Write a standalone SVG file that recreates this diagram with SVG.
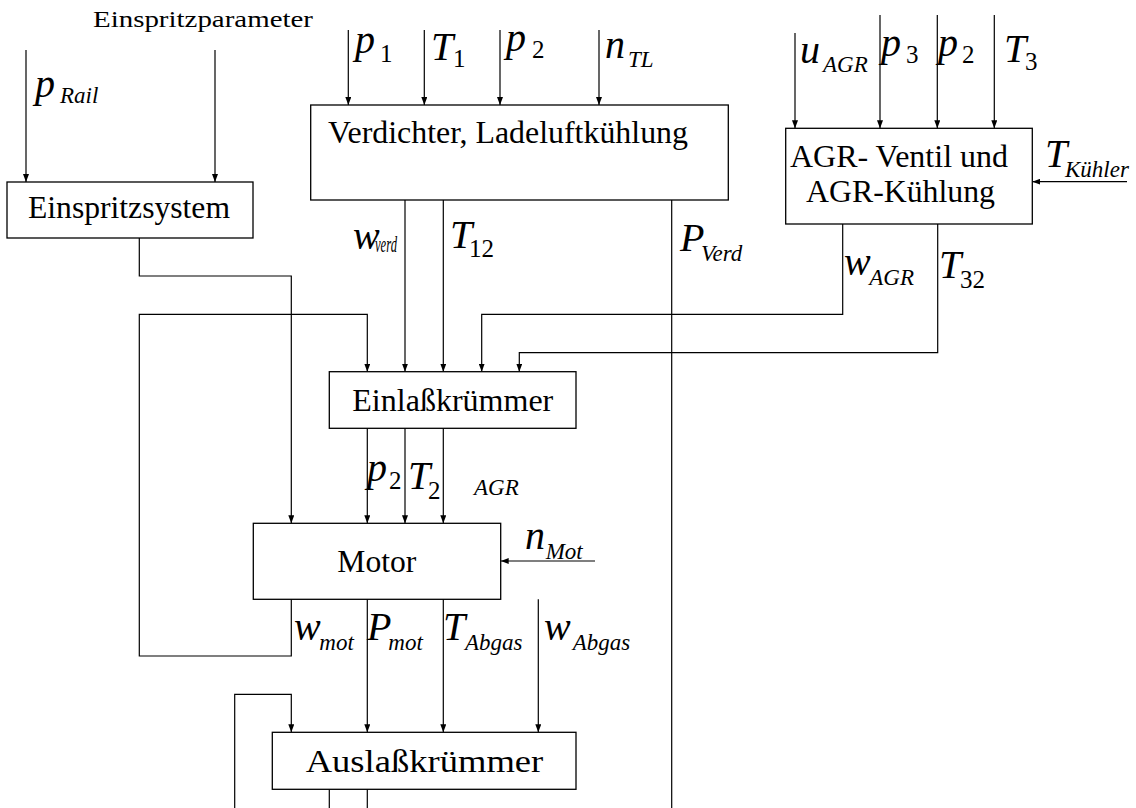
<svg xmlns="http://www.w3.org/2000/svg" width="1136" height="808" viewBox="0 0 1136 808" font-family="'Liberation Serif', 'Times New Roman', 'DejaVu Serif', serif">
<style>
.box{fill:#fff;stroke:#000;stroke-width:1.3}
.ln{fill:none;stroke:#000;stroke-width:1.2}
.ar{marker-end:url(#a)}
text{font-family:'Liberation Serif','Times New Roman','DejaVu Serif',serif;fill:#000}
.lbl{font-size:31.5px}
.m{font-style:italic;font-size:40px}
.s{font-size:23px}
.d{font-style:normal;font-size:25px}
</style>
<defs>
<marker id="a" viewBox="0 0 8 6" refX="8" refY="3" markerWidth="8" markerHeight="6" markerUnits="userSpaceOnUse" orient="auto">
<path d="M0,0 L8,3 L0,6 z" fill="#000"/>
</marker>
</defs>
<rect width="1136" height="808" fill="#fff"/>
<g id="connectors">
<path class="ln ar" d="M26,50 V182"/>
<path class="ln ar" d="M215,50 V182"/>
<path class="ln ar" d="M348.3,30 V105"/>
<path class="ln ar" d="M424.3,30 V105"/>
<path class="ln ar" d="M500,30 V105"/>
<path class="ln ar" d="M599,30 V105"/>
<path class="ln ar" d="M795,33 V128.3"/>
<path class="ln ar" d="M880,15 V128.3"/>
<path class="ln ar" d="M937.3,15 V128.3"/>
<path class="ln ar" d="M994.3,15 V128.3"/>
<path class="ln ar" d="M1127,181.7 H1032.3"/>
<path class="ln ar" d="M139.3,238 V276 H291.3 V523.3"/>
<path class="ln ar" d="M405,200 V371.7"/>
<path class="ln ar" d="M443.3,200 V371.7"/>
<path class="ln" d="M671.7,200 V808"/>
<path class="ln ar" d="M842.7,224 V314.3 H481.7 V371.7"/>
<path class="ln ar" d="M937.7,224 V352.7 H519.3 V371.7"/>
<path class="ln ar" d="M291.3,599.3 V656 H139.3 V314.3 H367.3 V371.7"/>
<path class="ln ar" d="M367.3,428.3 V523.3"/>
<path class="ln ar" d="M405,428.3 V523.3"/>
<path class="ln ar" d="M443.3,428.3 V523.3"/>
<path class="ln ar" d="M595,561 H500.7"/>
<path class="ln ar" d="M367.3,599.3 V732.3"/>
<path class="ln ar" d="M443.3,599.3 V732.3"/>
<path class="ln ar" d="M538.3,599.3 V732.3"/>
<path class="ln ar" d="M234.7,808 V694.3 H291.3 V732.3"/>
<path class="ln" d="M329.3,789.3 V808"/>
<path class="ln" d="M367.3,789.3 V808"/>
</g>
<g id="einspritzsystem">
<rect class="box" x="7" y="182" width="246" height="56"/>
<text class="lbl" x="28" y="218" textLength="202" lengthAdjust="spacingAndGlyphs">Einspritzsystem</text>
</g>
<g id="verdichter">
<rect class="box" x="310.7" y="105" width="417.6" height="95"/>
<text class="lbl" x="328" y="143" textLength="360" lengthAdjust="spacingAndGlyphs">Verdichter, Ladeluftkühlung</text>
</g>
<g id="agr">
<rect class="box" x="785.7" y="128.3" width="246.6" height="95.7"/>
<text class="lbl" x="790" y="166.7" textLength="218" lengthAdjust="spacingAndGlyphs">AGR- Ventil und</text>
<text class="lbl" x="806" y="201.7" textLength="189" lengthAdjust="spacingAndGlyphs">AGR-Kühlung</text>
</g>
<g id="einlass">
<rect class="box" x="329.3" y="371.7" width="246.7" height="56.6"/>
<text class="lbl" x="352.3" y="411" textLength="201" lengthAdjust="spacingAndGlyphs">Einlaßkrümmer</text>
</g>
<g id="motor">
<rect class="box" x="253.3" y="523.3" width="247.4" height="76"/>
<text class="lbl" x="337.3" y="571.7" textLength="79" lengthAdjust="spacingAndGlyphs">Motor</text>
</g>
<g id="auslass">
<rect class="box" x="272.3" y="732.3" width="303.7" height="57"/>
<text class="lbl" x="305.7" y="771.7" textLength="237.6" lengthAdjust="spacingAndGlyphs">Auslaßkrümmer</text>
</g>
<g id="labels">
<text x="93" y="27" style="font-size:23px" textLength="220" lengthAdjust="spacingAndGlyphs">Einspritzparameter</text>
<text class="m"><tspan x="35" y="97">p</tspan><tspan class="s" x="60" y="103">Rail</tspan></text>
<text class="m"><tspan x="355" y="53">p</tspan><tspan class="d" x="380" y="62">1</tspan></text>
<text class="m"><tspan x="431" y="60">T</tspan><tspan class="d" x="453" y="67">1</tspan></text>
<text class="m"><tspan x="506" y="51">p</tspan><tspan class="d" x="532" y="58">2</tspan></text>
<text class="m"><tspan x="605" y="58">n</tspan><tspan class="s" x="628" y="67">TL</tspan></text>
<text class="m"><tspan x="800" y="63">u</tspan><tspan class="s" x="823" y="71.7">AGR</tspan></text>
<text class="m"><tspan x="881" y="56">p</tspan><tspan class="d" x="906" y="63">3</tspan></text>
<text class="m"><tspan x="938" y="56">p</tspan><tspan class="d" x="962" y="63">2</tspan></text>
<text class="m"><tspan x="1004" y="61.7">T</tspan><tspan class="d" x="1025" y="70">3</tspan></text>
<text class="m"><tspan x="1045" y="166.7">T</tspan><tspan class="s" x="1065" y="176.7">Kühler</tspan></text>
<text class="m"><tspan x="353" y="249">w</tspan><tspan class="s" x="375" y="252" textLength="22" lengthAdjust="spacingAndGlyphs">verd</tspan></text>
<text class="m"><tspan x="450" y="248">T</tspan><tspan class="d" x="469" y="257">12</tspan></text>
<text class="m"><tspan x="680" y="250.7">P</tspan><tspan class="s" x="701" y="260.7">Verd</tspan></text>
<text class="m"><tspan x="844" y="275">w</tspan><tspan class="s" x="869.3" y="285">AGR</tspan></text>
<text class="m"><tspan x="939" y="278.3">T</tspan><tspan class="d" x="960" y="288.3">32</tspan></text>
<text class="m"><tspan x="367" y="481">p</tspan><tspan class="d" x="389" y="489">2</tspan></text>
<text class="m"><tspan x="408" y="489.3">T</tspan><tspan class="d" x="428" y="499">2</tspan></text>
<text class="m s" x="474" y="495">AGR</text>
<text class="m"><tspan x="525" y="549.3">n</tspan><tspan class="s" x="545.7" y="559.3">Mot</tspan></text>
<text class="m"><tspan x="294" y="640">w</tspan><tspan class="s" x="319.3" y="650">mot</tspan></text>
<text class="m"><tspan x="367" y="640">P</tspan><tspan class="s" x="388.3" y="650">mot</tspan></text>
<text class="m"><tspan x="443" y="640">T</tspan><tspan class="s" x="465" y="650">Abgas</tspan></text>
<text class="m"><tspan x="544" y="640">w</tspan><tspan class="s" x="572.7" y="650">Abgas</tspan></text>
</g>
</svg>
